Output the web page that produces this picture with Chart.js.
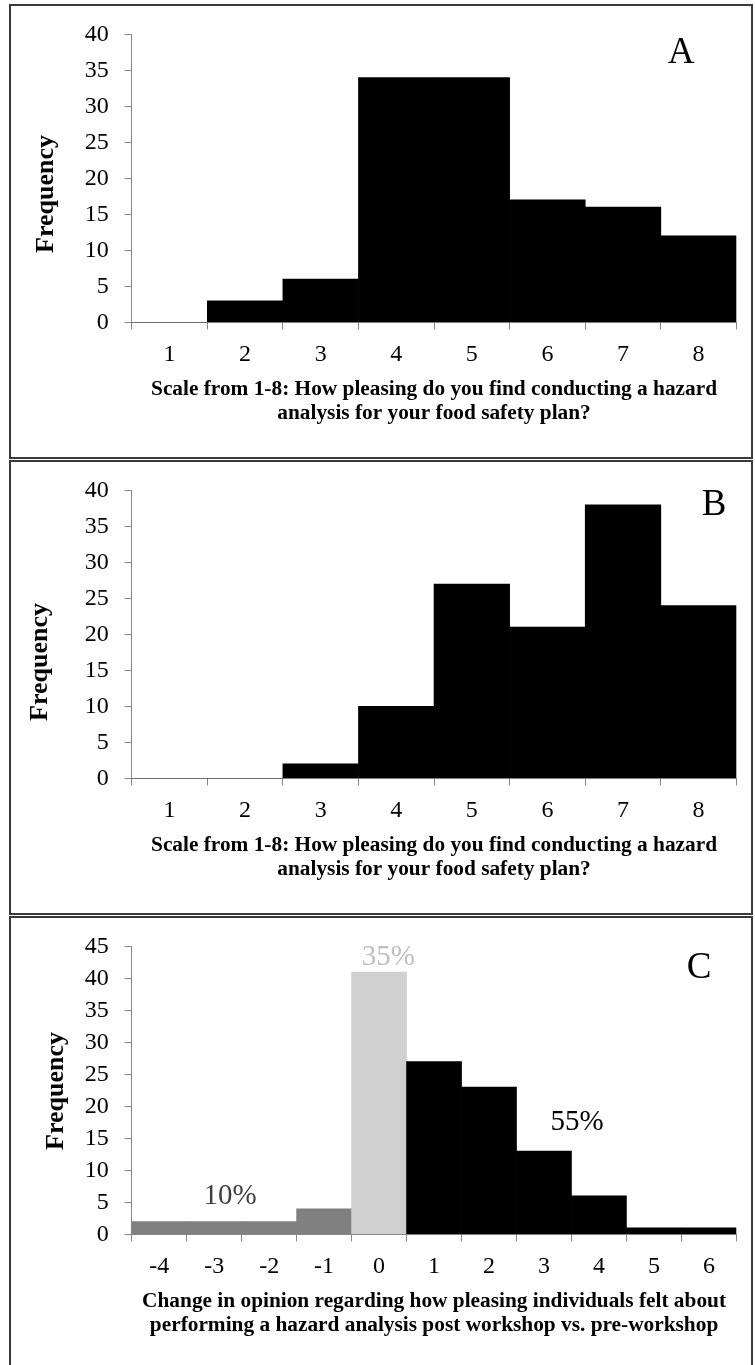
<!DOCTYPE html>
<html>
<head>
<meta charset="utf-8">
<script src="https://cdn.jsdelivr.net/npm/chart.js@4.4.1/dist/chart.umd.min.js"></script>
<style>
  html, body { margin: 0; padding: 0; background: #fff; }
  body { width: 755px; height: 1365px; position: relative; overflow: hidden; }
  .plot { position: absolute; left: 0; width: 755px; height: 455px; }
  .frame { position: absolute; left: 9px; width: 744px; height: 455px; box-sizing: border-box;
           border: 2px solid #3a3a3a; pointer-events: none; }
</style>
</head>
<body>
<div class="plot" style="top:4px"><canvas id="chartA"></canvas></div>
<div class="plot" style="top:460px"><canvas id="chartB"></canvas></div>
<div class="plot" style="top:916px"><canvas id="chartC"></canvas></div>
<div class="frame" style="top:4px"></div>
<div class="frame" style="top:460px"></div>
<div class="frame" style="top:916px"></div>
<script>
// Rating scale (1-8) and response counts before and after the workshop
const scaleLabels = ['1', '2', '3', '4', '5', '6', '7', '8'];
const preWorkshopCounts = [0, 3, 6, 34, 34, 17, 16, 12];
const postWorkshopCounts = [0, 0, 2, 10, 27, 21, 38, 24];

// Change in rating (post minus pre) and how many respondents fell in each step
const changeLabels = ['-4', '-3', '-2', '-1', '0', '1', '2', '3', '4', '5', '6'];
const changeCounts = [2, 2, 2, 4, 41, 27, 23, 13, 6, 1, 1];

// Share of respondents whose opinion fell, stayed the same, or rose
const groupShares = ['10%', '35%', '55%'];

// Axis ranges
const ratingAxisMax = 40;
const changeAxisMax = 45;
const frequencyStep = 5;

const scaleTitle = ['Scale from 1-8: How pleasing do you find conducting a hazard',
                    'analysis for your food safety plan?'];
const changeTitle = ['Change in opinion regarding how pleasing individuals felt about',
                     'performing a hazard analysis post workshop vs. pre-workshop'];

const SERIF = "'Liberation Serif', 'Times New Roman', serif";
const AXIS_GREY = '#868686';

// Fixed frame geometry shared by all three panels (canvas pixels)
const GEOM = { width: 755, height: 455, plotLeft: 131.7, plotRight: 736.4,
               plotTop: 29.8, plotBottom: 318.3, xScaleBottom: 421.5 };

// Draws free text: panel letters, rotated axis title, group shares
const panelText = {
  id: 'panelText',
  afterDraw(chart, args, opts) {
    const ctx = chart.ctx;
    (opts.items || []).forEach(it => {
      let x = it.x, y = it.y;
      if (it.data) {
        x = chart.scales.x.getPixelForValue(it.x);
        y = chart.scales.y.getPixelForValue(it.y);
      }
      ctx.save();
      ctx.translate(x, y);
      if (it.rotate) ctx.rotate(it.rotate);
      ctx.font = it.font;
      ctx.fillStyle = it.color || '#000';
      ctx.textAlign = 'center';
      ctx.textBaseline = 'middle';
      ctx.fillText(it.text, 0, 0);
      ctx.restore();
    });
  }
};

function frequencyLabel(x, y) {
  return { text: 'Frequency', x, y, rotate: -Math.PI / 2, font: 'bold 26px ' + SERIF };
}
function panelLetter(text, x, y) {
  return { text, x, y, font: '37px ' + SERIF };
}

function makeChart(id, labels, counts, colors, yMax, title, textItems) {
  return new Chart(document.getElementById(id), {
    type: 'bar',
    data: {
      labels,
      datasets: [{
        data: counts,
        backgroundColor: colors,
        borderWidth: 0,
        categoryPercentage: 1,
        barPercentage: 1
      }]
    },
    options: {
      responsive: true,
      maintainAspectRatio: false,
      animation: false,
      events: [],
      layout: {
        padding: {
          left: 0,
          top: GEOM.plotTop,
          right: GEOM.width - GEOM.plotRight,
          bottom: GEOM.height - GEOM.xScaleBottom
        }
      },
      plugins: {
        legend: { display: false },
        tooltip: { enabled: false },
        panelText: { items: textItems }
      },
      scales: {
        x: {
          offset: true,
          grid: { display: true, offset: true, drawOnChartArea: false, drawTicks: true,
                  tickLength: 7, color: AXIS_GREY, lineWidth: 1 },
          border: { display: true, color: AXIS_GREY, width: 1 },
          ticks: { font: { family: SERIF, size: 24 }, color: '#000', padding: 11, maxRotation: 0 },
          title: { display: true, text: title, color: '#000',
                   font: { family: SERIF, size: 21.33, weight: 'bold', lineHeight: 1.125 },
                   padding: { top: 0, bottom: 0 } },
          afterFit(s) { s.height = GEOM.xScaleBottom - GEOM.plotBottom; }
        },
        y: {
          min: 0,
          max: yMax,
          ticks: { stepSize: frequencyStep, font: { family: SERIF, size: 24 }, color: '#000', padding: 16 },
          grid: { display: true, drawOnChartArea: false, drawTicks: true, tickLength: 7,
                  color: AXIS_GREY, lineWidth: 1 },
          border: { display: true, color: AXIS_GREY, width: 1 },
          afterFit(s) { s.width = GEOM.plotLeft; }
        }
      }
    },
    plugins: [panelText]
  });
}

// Bars for decreases, no change and increases are shaded differently
const changeColors = changeLabels.map(l => {
  const v = Number(l);
  return v < 0 ? '#808080' : (v === 0 ? '#d0d0d0' : '#000000');
});

makeChart('chartA', scaleLabels, preWorkshopCounts, '#000000', ratingAxisMax, scaleTitle, [
  frequencyLabel(46, 190),
  panelLetter('A', 681, 49)
]);

makeChart('chartB', scaleLabels, postWorkshopCounts, '#000000', ratingAxisMax, scaleTitle, [
  frequencyLabel(40, 202),
  panelLetter('B', 714, 45)
]);

makeChart('chartC', changeLabels, changeCounts, changeColors, changeAxisMax, changeTitle, [
  frequencyLabel(56, 175),
  panelLetter('C', 699, 52),
  { text: groupShares[0], x: 1.29, y: 5.9, data: true, font: '29px ' + SERIF, color: '#404040' },
  { text: groupShares[1], x: 4.17, y: 43.3, data: true, font: '29px ' + SERIF, color: '#bfbfbf' },
  { text: groupShares[2], x: 7.6, y: 17.45, data: true, font: '29px ' + SERIF, color: '#000000' }
]);
</script>
</body>
</html>
